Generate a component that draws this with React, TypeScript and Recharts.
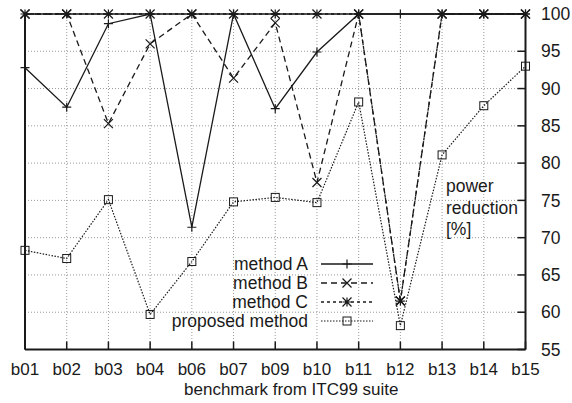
import React from 'react';
import { LineChart, Line, XAxis, YAxis, CartesianGrid, ReferenceLine } from 'recharts';

const benchmarks = ['b01', 'b02', 'b03', 'b04', 'b06', 'b07', 'b09', 'b10', 'b11', 'b12', 'b13', 'b14', 'b15'];
const methodA = [92.8, 87.5, 98.7, 100, 71.4, 100, 87.3, 94.9, 100, 100, 100, 100, 100];
const methodB = [100, 100, 85.3, 96.0, 100, 91.4, 98.8, 77.4, 100, 61.5, 100, 100, 100];
const methodC = [100, 100, 100, 100, 100, 100, 100, 100, 100, 61.5, 100, 100, 100];
const proposed = [68.3, 67.2, 75.1, 59.7, 66.8, 74.8, 75.4, 74.7, 88.2, 58.2, 81.1, 87.7, 93.0];
const yTicks = [55, 60, 65, 70, 75, 80, 85, 90, 95, 100];
const yLabel = ['power', 'reduction', '[%]'];

const data = benchmarks.map((name, i) => ({
    name,
    a: methodA[i],
    b: methodB[i],
    c: methodC[i],
    p: proposed[i],
}));

const INK = '#1a1a1a';
const FONT = 17.5;
const XFONT = 17;

type MarkerKind = 'plus' | 'cross' | 'star' | 'square';

const Marker = ({ cx, cy, kind }: { cx: number; cy: number; kind: MarkerKind }) => {
    const r = 4.5;
    if (kind === 'plus') {
        return <path d={`M${cx - r},${cy}H${cx + r}M${cx},${cy - r}V${cy + r}`} stroke={INK} strokeWidth={1.2} fill="none" />;
    }
    if (kind === 'cross') {
        return <path d={`M${cx - r},${cy - r}L${cx + r},${cy + r}M${cx - r},${cy + r}L${cx + r},${cy - r}`} stroke={INK} strokeWidth={1.2} fill="none" />;
    }
    if (kind === 'star') {
        return (
            <path
                d={`M${cx - r},${cy}H${cx + r}M${cx},${cy - r}V${cy + r}M${cx - r},${cy - r}L${cx + r},${cy + r}M${cx - r},${cy + r}L${cx + r},${cy - r}`}
                stroke={INK}
                strokeWidth={1.2}
                fill="none"
            />
        );
    }
    return <rect x={cx - 4} y={cy - 4} width={8} height={8} stroke={INK} strokeWidth={1} fill="none" />;
};

const series = [
    { key: 'a', name: 'method A', dash: undefined, width: 1.3, marker: 'plus' as MarkerKind },
    { key: 'b', name: 'method B', dash: '6 4', width: 1.3, marker: 'cross' as MarkerKind },
    { key: 'c', name: 'method C', dash: '3 3', width: 1.3, marker: 'star' as MarkerKind },
    { key: 'p', name: 'proposed method', dash: '1.5 1.5', width: 1.2, marker: 'square' as MarkerKind },
];

// gnuplot-style key and the rotated-free y label on the right
const KeyBox = () => (
    <g>
        {series.map((s, i) => {
            const y = 264 + i * 19;
            return (
                <g key={s.key}>
                    <text x={308} y={y + 5.5} textAnchor="end" fontSize={FONT} fill={INK}>{s.name}</text>
                    <line x1={321} x2={373} y1={y} y2={y} stroke={INK} strokeWidth={s.width} strokeDasharray={s.dash} />
                    <Marker cx={347} cy={y} kind={s.marker} />
                </g>
            );
        })}
        {yLabel.map((t, i) => (
            <text key={t} x={446} y={192 + i * 21.5} fontSize={FONT} fill={INK}>{t}</text>
        ))}
    </g>
);

export default function App() {
    return (
        <div style={{ position: 'absolute', left: 0, top: 0, width: 572, height: 403, background: '#fff', fontFamily: '"Liberation Sans", Arial, sans-serif' }}>
            <LineChart width={572} height={403} data={data} margin={{ top: 14, right: 0, left: 24, bottom: 0 }}>
                <CartesianGrid yAxisId="r" stroke="#9a9a9a" strokeDasharray="1 2" strokeWidth={1} />
                <XAxis
                    dataKey="name"
                    interval={0}
                    height={53.5}
                    tickSize={-8}
                    tickMargin={21.5}
                    axisLine={{ stroke: INK, strokeWidth: 2 }}
                    tickLine={{ stroke: INK, strokeWidth: 1.5 }}
                    tick={{ fill: INK, fontSize: XFONT }}
                    label={{ value: 'benchmark from ITC99 suite', position: 'insideBottom', offset: 8, dx: 16, fill: INK, fontSize: XFONT }}
                />
                <YAxis
                    yAxisId="l"
                    orientation="left"
                    width={1}
                    domain={[55, 100]}
                    ticks={yTicks}
                    tickSize={-8}
                    tick={false}
                    axisLine={{ stroke: INK, strokeWidth: 2 }}
                    tickLine={{ stroke: INK, strokeWidth: 1.5 }}
                />
                <YAxis
                    yAxisId="r"
                    orientation="right"
                    width={46.5}
                    domain={[55, 100]}
                    ticks={yTicks}
                    tickSize={-8}
                    tickMargin={23.5}
                    axisLine={{ stroke: INK, strokeWidth: 2 }}
                    tickLine={{ stroke: INK, strokeWidth: 1.5 }}
                    tick={{ fill: INK, fontSize: FONT }}
                />
                <ReferenceLine yAxisId="r" y={100} stroke={INK} strokeWidth={1.5} />
                {series.map((s) => (
                    <Line
                        key={s.key}
                        yAxisId="r"
                        dataKey={s.key}
                        name={s.name}
                        type="linear"
                        stroke={INK}
                        strokeWidth={s.width}
                        strokeDasharray={s.dash}
                        isAnimationActive={false}
                        dot={(p: any) => <Marker key={`${s.key}-${p.index}`} cx={p.cx} cy={p.cy} kind={s.marker} />}
                        activeDot={false}
                    />
                ))}
                <KeyBox />
            </LineChart>
        </div>
    );
}
